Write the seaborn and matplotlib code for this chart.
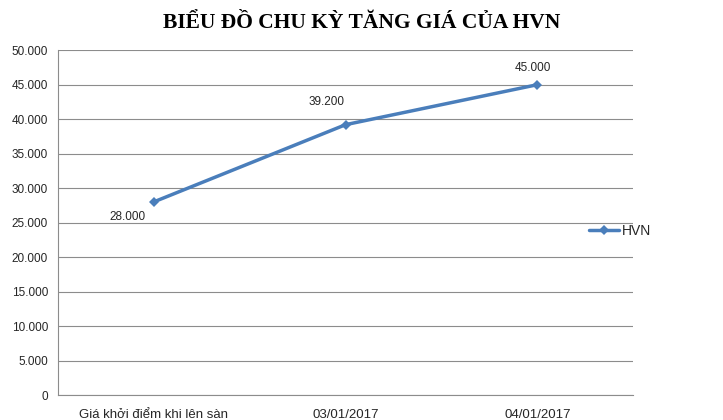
import numpy as np
import pandas as pd
import seaborn as sns
import matplotlib.pyplot as plt
from matplotlib.ticker import FuncFormatter, FixedLocator

# Data
categories = ['Giá khởi điểm khi lên sàn', '03/01/2017', '04/01/2017']
prices = [28000, 39200, 45000]
series_name = 'HVN'
title = 'BIỂU ĐỒ CHU KỲ TĂNG GIÁ CỦA HVN'

df = pd.DataFrame({'pos': np.arange(len(categories)), 'price': prices, 'series': series_name})

sns.set_style('white')
plt.rcParams['font.family'] = ['Liberation Sans', 'DejaVu Sans']

line_color = '#4A7EBB'
grid_color = '#8C8C8C'

fig = plt.figure(figsize=(7.23, 4.2), dpi=100)
ax = fig.add_axes([0.080, 0.0595, 0.796, 0.821])

sns.lineplot(data=df, x='pos', y='price', hue='series', palette=[line_color],
             marker='D', markersize=5, linewidth=2.5, markeredgewidth=0, ax=ax)

# data labels
offsets = [(-19, -11), (-14, 16), (-3, 12)]
for x, y, (dx, dy) in zip(df['pos'], df['price'], offsets):
    ax.annotate(f'{y:,.0f}'.replace(',', '.'), (x, y), xytext=(dx, dy),
                textcoords='offset points', ha='center', va='center', fontsize=8.5)

ax.set_xlim(-0.5, len(categories) - 0.5)
ax.set_ylim(0, 50000)
ax.yaxis.set_major_locator(FixedLocator(np.arange(0, 50001, 5000)))
ax.yaxis.set_major_formatter(FuncFormatter(lambda v, p: f'{v:,.0f}'.replace(',', '.')))
ax.set_xticks(df['pos'])
ax.set_xticklabels(categories)
ax.set_xticks(np.arange(-0.5, len(categories)), minor=True)
ax.tick_params(axis='x', which='major', length=0, pad=10, labelsize=9.5)
ax.tick_params(axis='x', which='minor', length=5, width=0.8, color=grid_color, direction='out')
ax.tick_params(axis='y', which='major', length=4, width=0.8, color=grid_color, direction='out', labelsize=8.5, pad=3)
ax.set_xlabel('')
ax.set_ylabel('')

ax.grid(axis='y', color=grid_color, linewidth=0.8)
ax.set_axisbelow(True)
for side in ['top', 'right']:
    ax.spines[side].set_visible(False)
for side in ['left', 'bottom']:
    ax.spines[side].set_color(grid_color)
    ax.spines[side].set_linewidth(0.8)

ax.legend(loc='center left', bbox_to_anchor=(0.797, 0.45), bbox_transform=fig.transFigure,
          frameon=False, fontsize=10, handlelength=2.2, handletextpad=0.2)

fig.text(0.5, 0.945, title, ha='center', va='center', fontsize=15.5, fontweight='bold',
         color='black', family=['Liberation Serif', 'DejaVu Serif'])

fig.savefig('out.png', dpi=100, facecolor='white')
